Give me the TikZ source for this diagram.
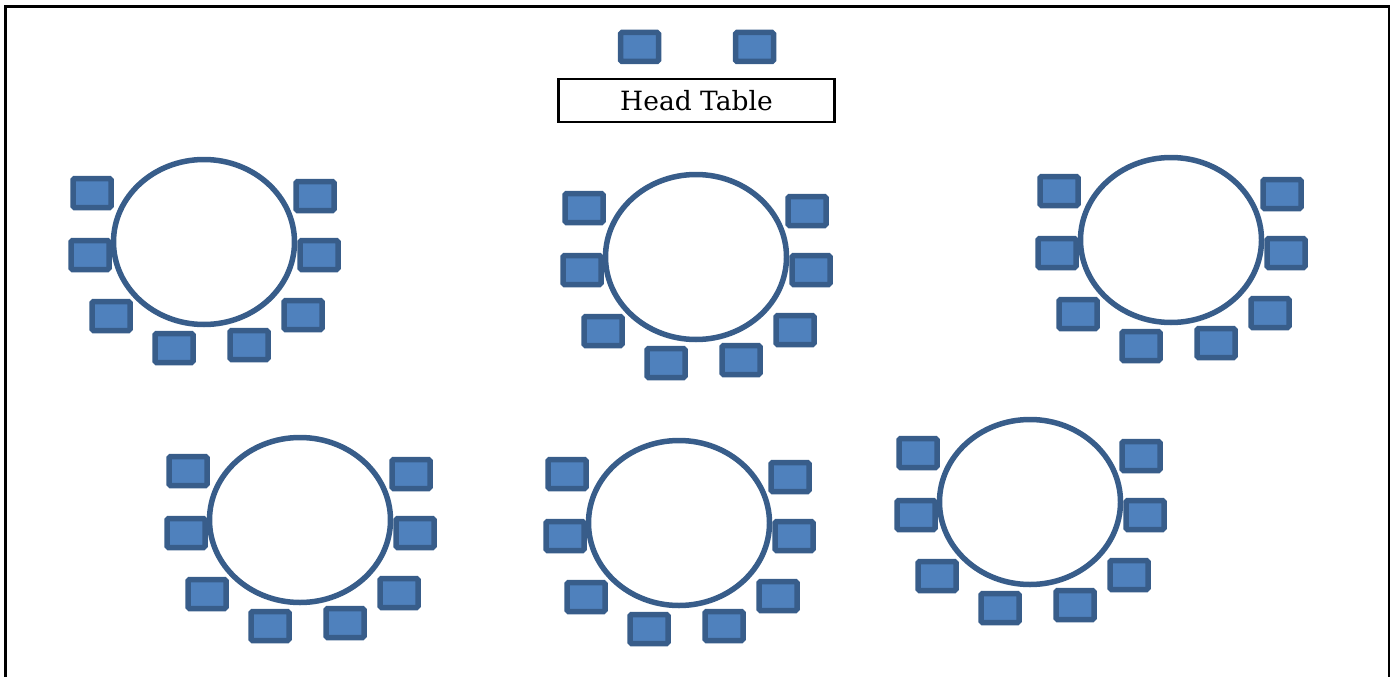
\documentclass[tikz,border=0pt]{standalone}
\usepackage{fontspec}
\setmainfont{DejaVu Serif}
\usetikzlibrary{shapes.geometric}
\definecolor{chairfill}{HTML}{4F81BD}
\definecolor{chairline}{HTML}{385D8A}
\tikzset{
  chair/.style={draw=chairline, fill=chairfill, line width=5.5pt, rounded corners=1.5pt,
    minimum width=38pt, minimum height=29pt, inner sep=0pt},
  rtable/.style={ellipse, draw=chairline, line width=5.5pt, minimum width=181pt,
    minimum height=165pt, inner sep=0pt},
  headtable/.style={draw=black, line width=2.4pt, minimum width=276pt, minimum height=43pt,
    inner sep=0pt, font=\fontsize{26.5}{30}\selectfont},
  frame/.style={draw=black, line width=2.8pt}
}
\begin{document}
\begin{tikzpicture}[x=1pt,y=-1pt]
\useasboundingbox (0,0) rectangle (1397,677);
\coordinate (f1) at (5.5,680);
\coordinate (f2) at (5.5,6.5);
\coordinate (f3) at (1389,6.5);
\coordinate (f4) at (1389,680);
\draw[frame] (f1) -- (f2) -- (f3) -- (f4);
\node[headtable] (head) at (696.5,100.5) {Head Table};
\node[chair] (h1) at (639.5,47) {};
\node[chair] (h2) at (754.5,47) {};
\foreach \n/\x/\y in {1/204/242, 2/696/257, 3/1171/240, 4/300/520, 5/679/523, 6/1030/502} {
  \foreach \i/\dx/\dy in {1/-112/-49, 2/-114/13, 3/-93/74, 4/-30/106, 5/45/103, 6/99/73, 7/115/13, 8/111/-46}
    \node[chair] (t\n c\i) at (\x+\dx,\y+\dy) {};
  \node[rtable] (t\n) at (\x,\y) {};
}
\end{tikzpicture}
\end{document}
